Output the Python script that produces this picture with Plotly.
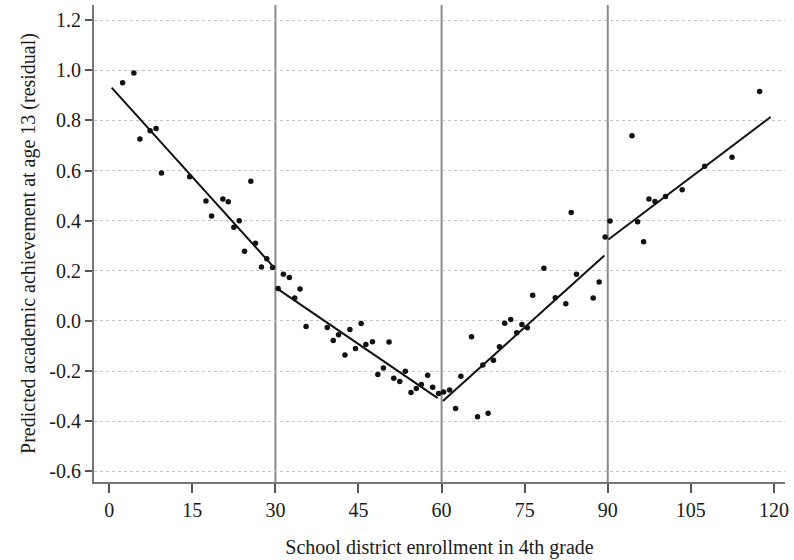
import plotly.graph_objects as go

# Scatter data (enrollment, residual achievement)
enroll = [2.41, 4.45, 5.53, 7.38, 8.46, 9.43, 14.52, 17.46, 18.48, 20.52, 21.49, 22.50,
          23.47, 24.42, 25.56, 26.40, 27.48, 28.44, 29.5,
          30.49, 31.44, 32.52, 33.48, 34.45, 35.53, 39.36, 40.44, 41.40, 42.55, 43.45,
          44.46, 45.48, 46.33, 47.52, 48.49, 49.50, 50.52, 51.37, 52.45, 53.46, 54.48,
          55.44, 56.34, 57.49, 58.39, 59.47,
          60.37, 61.45, 62.53, 63.48, 65.41, 66.49, 67.44, 68.40, 69.37, 70.45, 71.40,
          72.48, 73.56, 74.51, 75.49, 76.44, 78.47, 80.53, 82.43, 83.40, 84.36, 87.37,
          88.45, 89.53,
          90.42, 94.38, 95.39, 96.47, 97.44, 98.52, 100.43, 103.44, 107.5, 112.44, 117.42]
resid = [0.951, 0.990, 0.726, 0.759, 0.768, 0.590, 0.575, 0.479, 0.419, 0.487, 0.476, 0.374,
         0.400, 0.278, 0.557, 0.310, 0.215, 0.248, 0.213,
         0.129, 0.186, 0.173, 0.091, 0.127, -0.022, -0.026, -0.078, -0.055, -0.136, -0.034,
         -0.110, -0.010, -0.094, -0.083, -0.214, -0.188, -0.084, -0.229, -0.242, -0.201, -0.286,
         -0.270, -0.254, -0.217, -0.265, -0.290,
         -0.284, -0.276, -0.350, -0.221, -0.063, -0.383, -0.176, -0.369, -0.157, -0.103, -0.009,
         0.006, -0.047, -0.014, -0.027, 0.102, 0.210, 0.092, 0.069, 0.433, 0.186, 0.091,
         0.155, 0.335,
         0.399, 0.739, 0.396, 0.316, 0.487, 0.477, 0.497, 0.524, 0.617, 0.653, 0.916]

# Piecewise linear fit segments
fit_x0 = [0.43, 30.13, 60.24, 90.12]
fit_y0 = [0.931, 0.132, -0.320, 0.325]
fit_x1 = [29.8, 59.3, 89.4, 119.4]
fit_y1 = [0.212, -0.308, 0.261, 0.814]

cutoffs = [30, 60, 90]

x_ticks = [0, 15, 30, 45, 60, 75, 90, 105, 120]
y_ticks = [1.2, 1.0, 0.8, 0.6, 0.4, 0.2, 0.0, -0.2, -0.4, -0.6]
y_ticklabels = ["1.2", "1.0", "0.8", "0.6", "0.4", "0.2", "0.0", "-0.2", "-0.4", "-0.6"]

FONT = "Liberation Serif"
FS = 20

fig = go.Figure()

for c in cutoffs:
    fig.add_vline(x=c, line=dict(color="#8a8a8a", width=2), layer="below")

fig.add_trace(go.Scatter(x=enroll, y=resid, mode="markers",
                         marker=dict(color="#111111", size=5.5, symbol="circle"),
                         showlegend=False))

for i in range(len(fit_x0)):
    fig.add_trace(go.Scatter(x=[fit_x0[i], fit_x1[i]], y=[fit_y0[i], fit_y1[i]],
                             mode="lines", line=dict(color="#111111", width=2),
                             showlegend=False))

fig.update_layout(
    width=794, height=560,
    margin=dict(l=94, r=7, t=5, b=77),
    paper_bgcolor="white", plot_bgcolor="white",
    font=dict(family=FONT, size=FS, color="#1a1a1a"),
    xaxis=dict(range=[-2.75, 122.0], tickvals=x_ticks, ticks="outside", ticklen=9,
               tickcolor="#555555", tickwidth=1.5, showgrid=False, zeroline=False,
               showline=True, linecolor="#777777", linewidth=2,
               title=dict(text="School district enrollment in 4th grade",
                          font=dict(family=FONT, size=FS), standoff=20),
               tickfont=dict(family=FONT, size=FS)),
    yaxis=dict(range=[-0.643, 1.261], tickvals=y_ticks, ticktext=y_ticklabels,
               ticks="outside", ticklen=7, tickcolor="#555555", tickwidth=1.5,
               showgrid=True, gridcolor="#c4c4c4", griddash="dot", gridwidth=1,
               zeroline=False, showline=True, linecolor="#777777", linewidth=2,
               title=dict(text="Predicted academic achievement at age 13 (residual)",
                          font=dict(family=FONT, size=FS), standoff=8),
               tickfont=dict(family=FONT, size=FS)),
)

fig.write_html("out.html")
